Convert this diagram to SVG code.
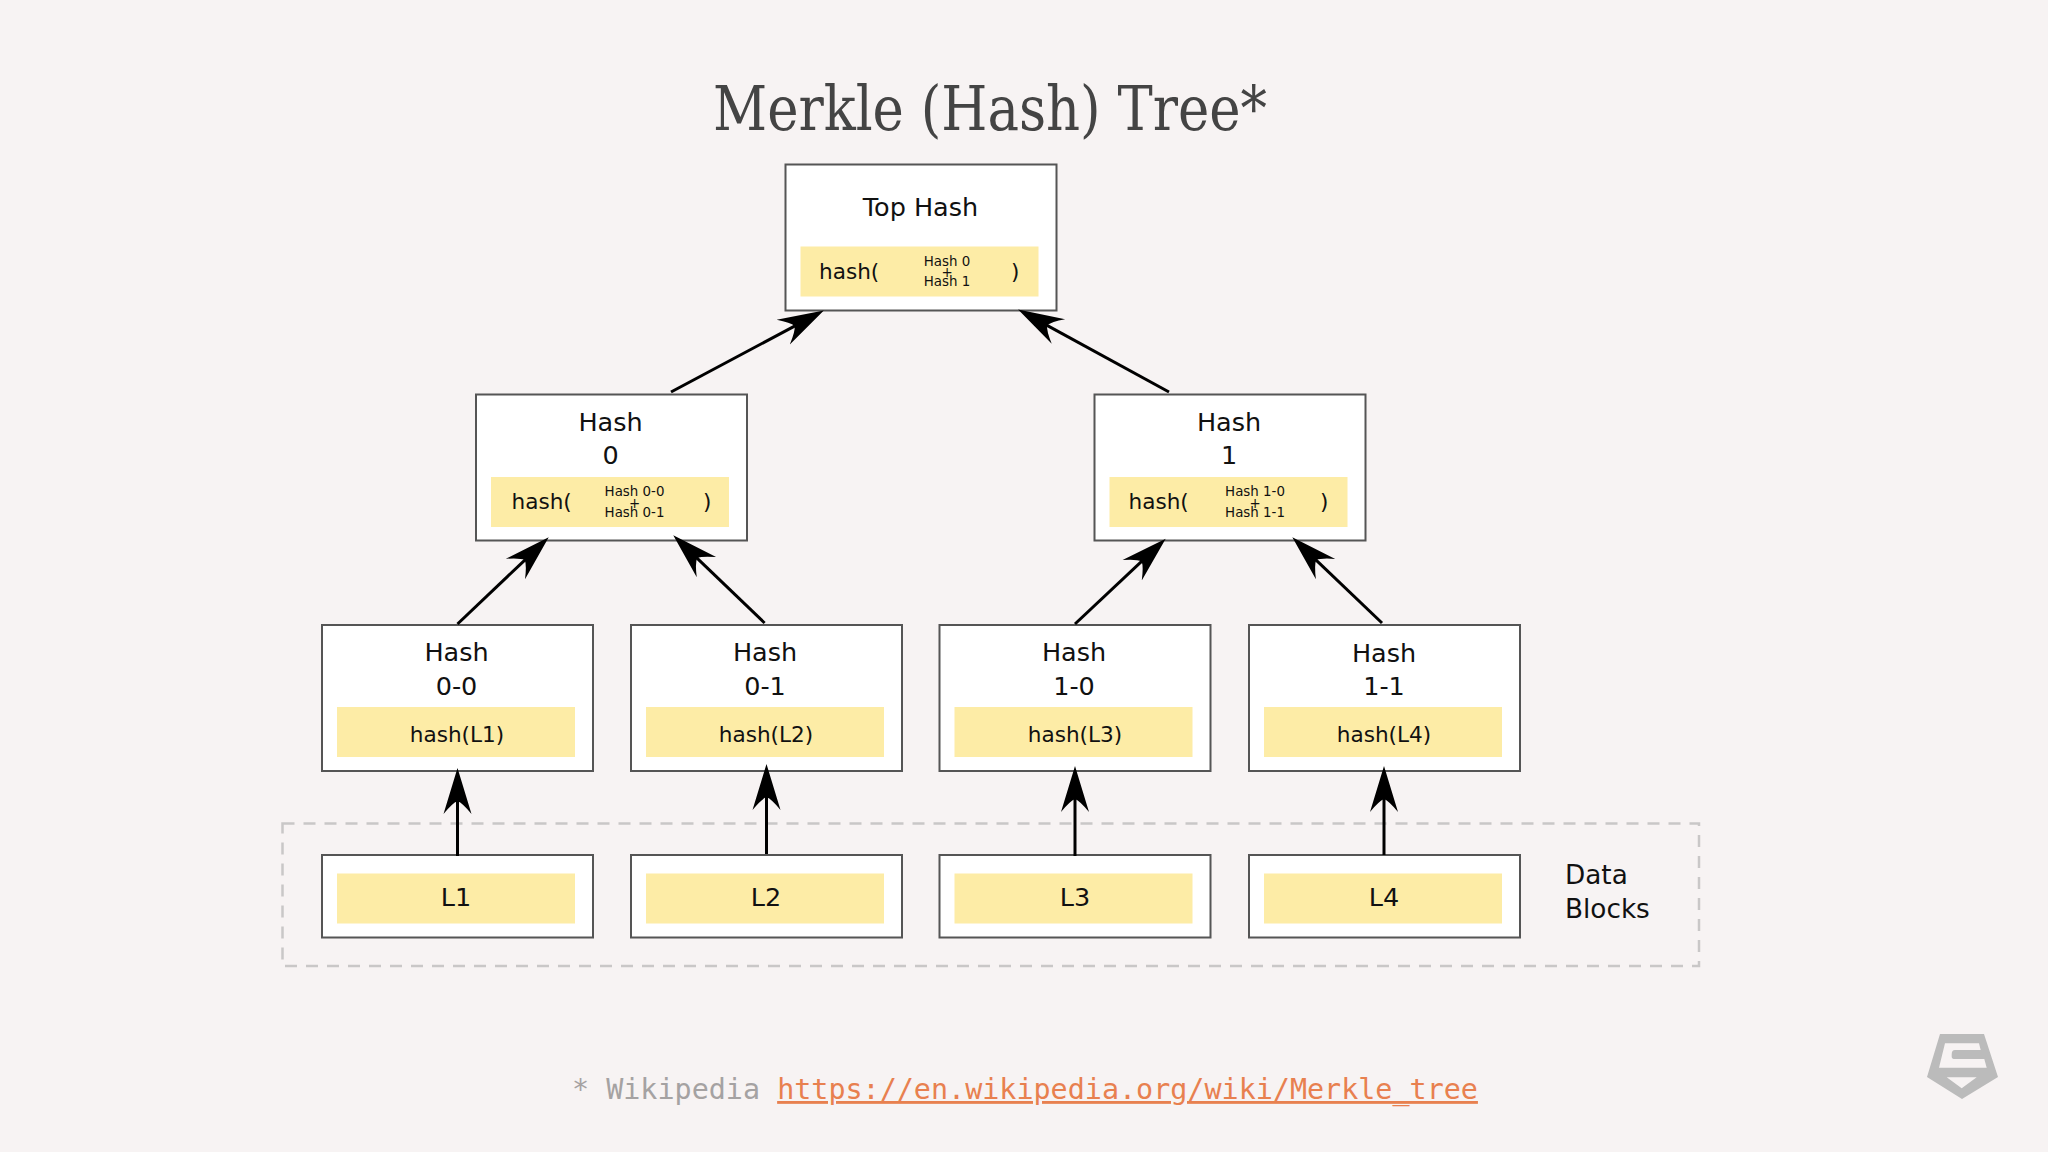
<svg xmlns="http://www.w3.org/2000/svg" width="2048" height="1152" viewBox="0 0 2048 1152">
<style>
.bg{fill:#f7f3f3}
.box{fill:#fff;stroke:#555;stroke-width:2}
.y{fill:#fdeca6}
text{font-family:"DejaVu Sans",sans-serif;fill:#111}
.l{font-size:25.5px;text-anchor:middle}
.h{font-size:21.6px}
.s{font-size:13.4px;text-anchor:middle}
.c{stroke:#000;stroke-width:3;fill:none;marker-end:url(#a)}
.title{font-family:"DejaVu Serif Condensed","DejaVu Serif",serif;font-size:62px;fill:#444;text-anchor:middle}
.foot{font-family:"DejaVu Sans Mono",monospace;font-size:28.4px;fill:#a5a2a2}
.link{fill:#e8804f;text-decoration:underline}
</style>
<defs>
<marker id="a" markerUnits="userSpaceOnUse" markerWidth="60" markerHeight="40" refX="25" refY="20" orient="auto">
<path d="M46,20 L0,6 Q11,15 13,20 Q11,25 0,34 Z" fill="#000"/>
</marker>
<g id="lf"><rect class="box" width="271" height="82.5"/><rect class="y" x="15" y="18.5" width="238" height="50"/></g>
</defs>
<rect class="bg" width="2048" height="1152"/>
<text class="title" x="990" y="130" textLength="554" lengthAdjust="spacingAndGlyphs">Merkle (Hash) Tree*</text>

<rect id="data-blocks-frame" x="282.5" y="823.5" width="1416.5" height="142.5" fill="none" stroke="#c9c7c7" stroke-width="2.5" stroke-dasharray="12 9"/>

<g id="top-hash">
<rect class="box" x="785.5" y="164.5" width="271" height="146"/><rect class="y" x="800.5" y="246.5" width="238" height="50"/>
<text class="l" x="920.5" y="216">Top Hash</text>
<text class="h" x="819" y="279">hash(</text><text class="h" x="1011" y="279">)</text>
<text class="s" x="947" y="265.5">Hash 0</text><text class="s" x="947" y="277">+</text><text class="s" x="947" y="286">Hash 1</text>
</g>
<g id="hash-0">
<rect class="box" x="476" y="394.5" width="271" height="146"/><rect class="y" x="491" y="477" width="238" height="50"/>
<text class="l" x="610.5" y="431">Hash</text><text class="l" x="610.5" y="464">0</text>
<text class="h" x="511.5" y="509">hash(</text><text class="h" x="703" y="509">)</text>
<text class="s" x="634.5" y="496">Hash 0-0</text><text class="s" x="634.5" y="507.5">+</text><text class="s" x="634.5" y="516.5">Hash 0-1</text>
</g>
<g id="hash-1">
<rect class="box" x="1094.5" y="394.5" width="271" height="146"/><rect class="y" x="1109.5" y="477" width="238" height="50"/>
<text class="l" x="1229" y="431">Hash</text><text class="l" x="1229" y="464">1</text>
<text class="h" x="1128.5" y="509">hash(</text><text class="h" x="1320" y="509">)</text>
<text class="s" x="1255" y="496">Hash 1-0</text><text class="s" x="1255" y="507.5">+</text><text class="s" x="1255" y="516.5">Hash 1-1</text>
</g>
<g id="hash-0-0">
<rect class="box" x="322" y="625" width="271" height="146"/><rect class="y" x="337" y="707" width="238" height="50"/>
<text class="l" x="456.5" y="660.5">Hash</text><text class="l" x="456.5" y="694.5">0-0</text><text class="h" x="457" y="742" text-anchor="middle">hash(L1)</text>
</g>
<g id="hash-0-1">
<rect class="box" x="631" y="625" width="271" height="146"/><rect class="y" x="646" y="707" width="238" height="50"/>
<text class="l" x="765" y="660.5">Hash</text><text class="l" x="765" y="694.5">0-1</text><text class="h" x="766" y="742" text-anchor="middle">hash(L2)</text>
</g>
<g id="hash-1-0">
<rect class="box" x="939.5" y="625" width="271" height="146"/><rect class="y" x="954.5" y="707" width="238" height="50"/>
<text class="l" x="1074" y="660.5">Hash</text><text class="l" x="1074" y="694.5">1-0</text><text class="h" x="1075" y="742" text-anchor="middle">hash(L3)</text>
</g>
<g id="hash-1-1">
<rect class="box" x="1249" y="625" width="271" height="146"/><rect class="y" x="1264" y="707" width="238" height="50"/>
<text class="l" x="1384" y="661.5">Hash</text><text class="l" x="1384" y="694.5">1-1</text><text class="h" x="1384" y="742" text-anchor="middle">hash(L4)</text>
</g>
<g id="l1"><use href="#lf" x="322" y="855"/><text class="l" x="456" y="905.5">L1</text></g>
<g id="l2"><use href="#lf" x="631" y="855"/><text class="l" x="766" y="905.5">L2</text></g>
<g id="l3"><use href="#lf" x="939.5" y="855"/><text class="l" x="1075" y="905.5">L3</text></g>
<g id="l4"><use href="#lf" x="1249" y="855"/><text class="l" x="1384" y="905.5">L4</text></g>
<g id="data-blocks-label"><text x="1565" y="884" font-size="26.3">Data</text><text x="1565" y="918" font-size="26.3">Blocks</text></g>

<g id="connectors">
<line class="c" x1="671" y1="392" x2="805.3" y2="320.4"/>
<line class="c" x1="1169" y1="392" x2="1036.5" y2="319.6"/>
<line class="c" x1="457.5" y1="624" x2="533.5" y2="551.8"/>
<line class="c" x1="764.6" y1="623" x2="688.4" y2="549.9"/>
<line class="c" x1="1075" y1="624" x2="1150.4" y2="553.2"/>
<line class="c" x1="1382" y1="623" x2="1307.5" y2="551.8"/>
<line class="c" x1="457.5" y1="856" x2="457.5" y2="789"/>
<line class="c" x1="766.5" y1="854" x2="766.5" y2="785"/>
<line class="c" x1="1075" y1="856" x2="1075" y2="787"/>
<line class="c" x1="1384" y1="855" x2="1384" y2="787"/>
</g>

<text class="foot" x="572" y="1099">* Wikipedia <tspan class="link">https://en.wikipedia.org/wiki/Merkle_tree</tspan></text>
<path id="logo" fill="#bbb" fill-rule="evenodd" d="M1940,1034H1984L1998,1077L1962,1099L1927,1077Z M1945,1043.3H1979L1980.7,1050H1955Q1951.7,1050 1951.7,1054.3V1056.7Q1951.7,1059 1955,1059H1984.3L1986.7,1067.7H1939Z M1946.7,1077.3H1976.7L1961.7,1088.3Z"/>
</svg>
